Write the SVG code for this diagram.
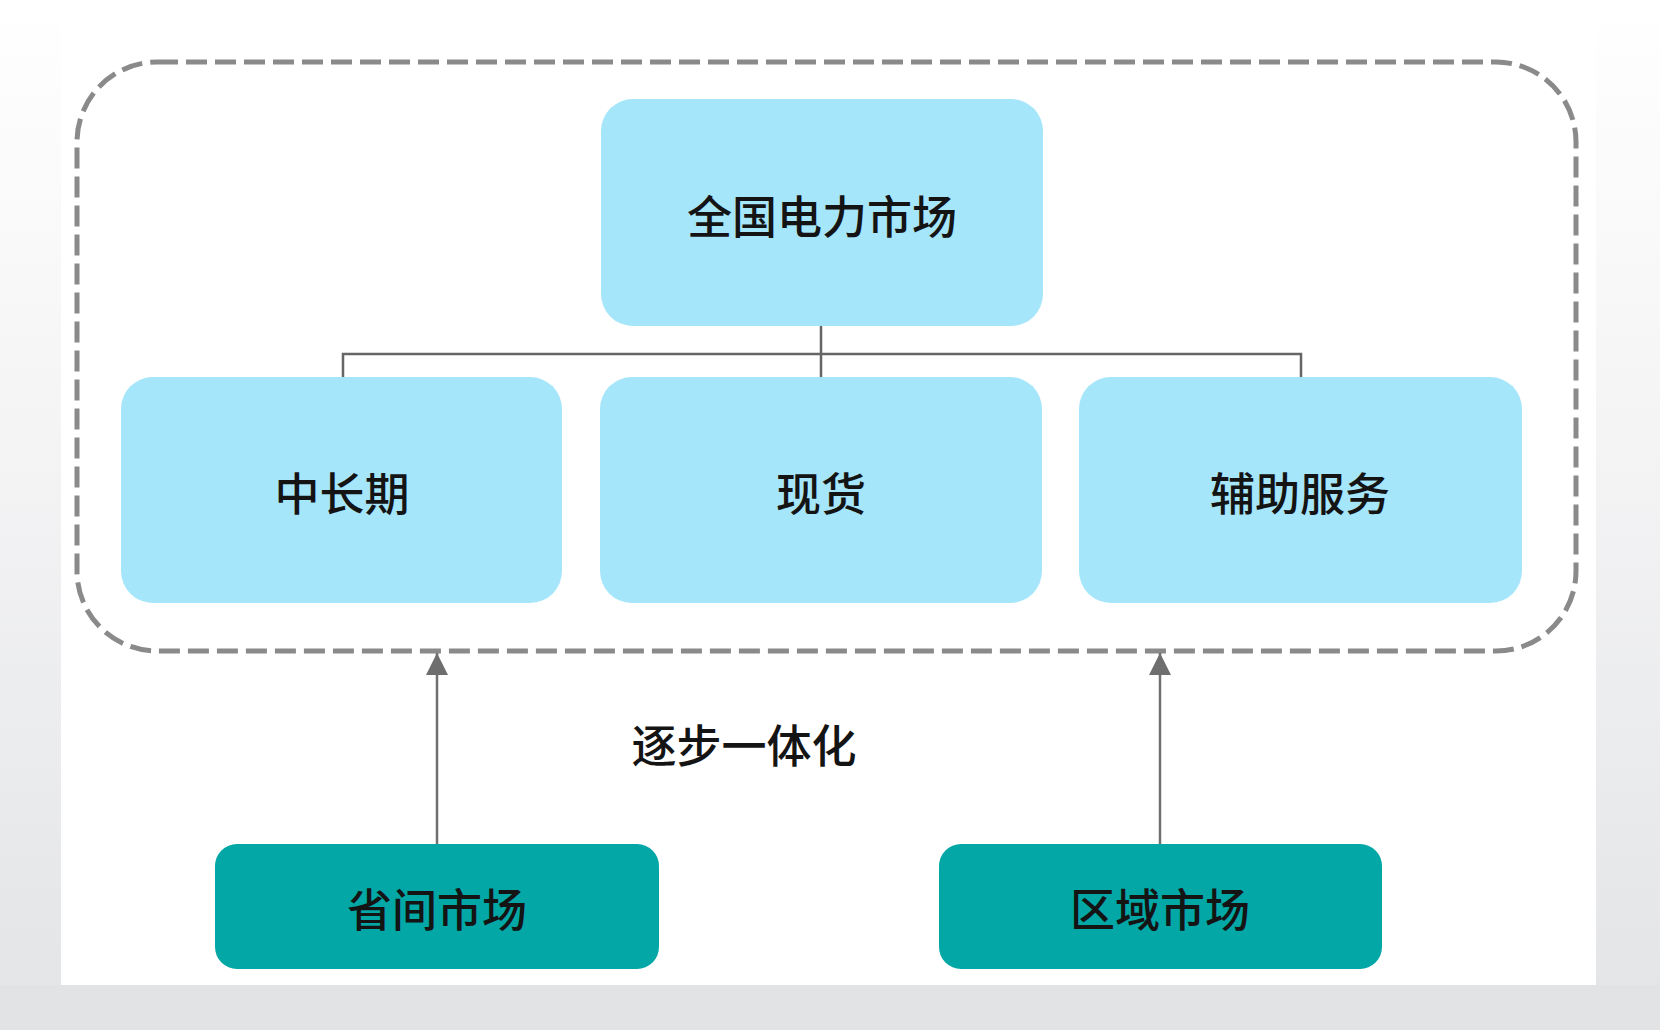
<svg xmlns="http://www.w3.org/2000/svg" width="1660" height="1030" viewBox="0 0 1660 1030">
<defs>
<linearGradient id="side" x1="0" y1="0" x2="0" y2="1">
<stop offset="0" stop-color="#ffffff"/>
<stop offset="0.35" stop-color="#f6f6f7"/>
<stop offset="1" stop-color="#e3e4e6"/>
</linearGradient>
<marker id="arrow" viewBox="0 0 10 10" refX="10" refY="5" markerWidth="22" markerHeight="22" markerUnits="userSpaceOnUse" orient="auto">
<path d="M0,0 L10,5 L0,10 z" fill="#6e6e6e"/>
</marker>
</defs>
<style>
.lt{fill:#a6e6fb;}
.tl{fill:#02a7a6;}
.lbl{font-family:"Noto Sans CJK SC","Noto Sans",sans-serif;font-size:45px;font-weight:500;fill:#141414;text-anchor:middle;dominant-baseline:central;}
.conn{stroke:#666666;stroke-width:2.5;fill:none;}
.arr{stroke:#707070;stroke-width:2.5;fill:none;}
</style>
<rect x="0" y="0" width="1660" height="1030" fill="url(#side)"/>
<rect x="0" y="985" width="1660" height="45" fill="#e2e3e5"/>
<rect x="61" y="0" width="1535" height="985" fill="#ffffff"/>
<rect id="frame" x="77" y="62" width="1499" height="589" rx="80" ry="80" fill="none" stroke="#8a8a8a" stroke-width="5" stroke-dasharray="21 8"/>
<g id="connectors">
<path class="conn" d="M821,326 V377 M343,377 V354 H1301 V377"/>
<line class="arr" x1="437" y1="844" x2="437" y2="653" marker-end="url(#arrow)"/>
<line class="arr" x1="1160" y1="844" x2="1160" y2="653" marker-end="url(#arrow)"/>
</g>
<g id="national">
<rect class="lt" x="601" y="99" width="442" height="227" rx="32"/>
<text class="lbl" x="822" y="214">全国电力市场</text>
</g>
<g id="midlong">
<rect class="lt" x="121" y="377" width="441" height="226" rx="32"/>
<text class="lbl" x="342" y="491">中长期</text>
</g>
<g id="spot">
<rect class="lt" x="600" y="377" width="442" height="226" rx="32"/>
<text class="lbl" x="821" y="491">现货</text>
</g>
<g id="ancillary">
<rect class="lt" x="1079" y="377" width="443" height="226" rx="32"/>
<text class="lbl" x="1300" y="491">辅助服务</text>
</g>
<g id="note">
<text class="lbl" x="744" y="743">逐步一体化</text>
</g>
<g id="interprovincial">
<rect class="tl" x="215" y="844" width="444" height="125" rx="22"/>
<text class="lbl" x="437" y="907">省间市场</text>
</g>
<g id="regional">
<rect class="tl" x="939" y="844" width="443" height="125" rx="22"/>
<text class="lbl" x="1160" y="907">区域市场</text>
</g>
</svg>
